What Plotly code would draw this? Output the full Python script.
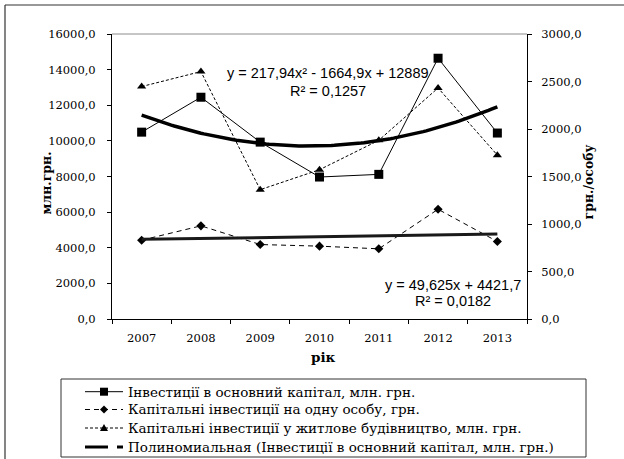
import numpy as np
import plotly.graph_objects as go

years = ["2007", "2008", "2009", "2010", "2011", "2012", "2013"]
fixed_capital = [10490, 12450, 9930, 7970, 8120, 14640, 10440]
per_person = [4425, 5230, 4180, 4090, 3940, 6160, 4350]
housing = [13050, 13890, 7260, 8380, 10030, 12970, 9200]
poly_coef = [217.94, -1664.9, 12889]
lin_coef = [49.625, 4421.7]
left_ticks = [0, 2000, 4000, 6000, 8000, 10000, 12000, 14000, 16000]
right_ticks = [0, 500, 1000, 1500, 2000, 2500, 3000]

names = [
    "Інвестиції в основний капітал, млн. грн.",
    "Капітальні інвестиції на одну особу, грн.",
    "Капітальні інвестиції у житлове будівництво, млн. грн.",
    "Полиномиальная (Інвестиції в основний капітал, млн. грн.)",
]

xpos = list(range(1, len(years) + 1))
xs = np.linspace(1, len(years), 121)
poly_y = np.polyval(poly_coef, xs)
lin_y = np.polyval(lin_coef, xs)

W, H = 624, 459
L, R, T, B = 112, 97, 34, 140
pw, ph = W - L - R, H - T - B


def px(x):
    return (x - L) / pw


def py(y):
    return (H - B - y) / ph


serif = "DejaVu Serif"
sans = "Liberation Sans, Arial, sans-serif"

fig = go.Figure()
fig.add_trace(go.Scatter(x=xpos, y=fixed_capital, name=names[0], mode="lines+markers",
                         line=dict(color="black", width=1),
                         marker=dict(symbol="square", size=9, color="black")))
fig.add_trace(go.Scatter(x=xpos, y=per_person, name=names[1], mode="lines+markers",
                         line=dict(color="black", width=1, dash="5px,4px"),
                         marker=dict(symbol="diamond", size=7, color="black")))
fig.add_trace(go.Scatter(x=xpos, y=housing, name=names[2], mode="lines+markers",
                         line=dict(color="black", width=1, dash="3px,2px"),
                         marker=dict(symbol="triangle-up", size=8, color="black")))
fig.add_trace(go.Scatter(x=xs, y=poly_y, name=names[3], mode="lines",
                         line=dict(color="black", width=3.5)))
fig.add_trace(go.Scatter(x=xs, y=lin_y, name="Линейная", mode="lines",
                         line=dict(color="#1a1a1a", width=3)))
fig.add_trace(go.Scatter(x=[], y=[], yaxis="y2", hoverinfo="skip"))

tick_font = dict(family=serif, size=11.5, color="black")
fig.update_layout(
    width=W, height=H,
    margin=dict(l=L, r=R, t=T, b=B),
    paper_bgcolor="white", plot_bgcolor="white",
    separators=", ",
    font=dict(family=serif, size=12, color="black"),
    showlegend=False,
    xaxis=dict(range=[0.5, len(years) + 0.5], tickmode="array", tickvals=xpos, ticktext=years,
               ticks="", showgrid=False, zeroline=False, showline=True, linecolor="black",
               linewidth=1, tickfont=tick_font, ticklabelstandoff=8,
               minor=dict(tickmode="array", tickvals=[i + 0.5 for i in range(len(years) + 1)],
                          ticks="outside", ticklen=4, tickcolor="black", showgrid=False)),
    yaxis=dict(range=[0, 16000], tickmode="array", tickvals=left_ticks, tickformat=".1f",
               ticks="outside", ticklen=4, tickcolor="black", showgrid=False, zeroline=False,
               showline=True, linecolor="black", linewidth=1, ticklabelstandoff=9,
               tickfont=tick_font),
    yaxis2=dict(range=[0, 3000], overlaying="y", side="right", tickmode="array",
                tickvals=right_ticks, tickformat=".1f", ticks="outside", ticklen=4,
                tickcolor="black", showgrid=False, zeroline=False, showline=True,
                linecolor="black", linewidth=1, ticklabelstandoff=7,
                tickfont=tick_font),
)

ann = dict(showarrow=False, font=dict(family=sans, size=14.5, color="black"))
fig.add_annotation(x=4.14, y=13811, text="y = 217,94x² - 1664,9x + 12889", **ann)
fig.add_annotation(x=4.14, y=12800, text="R² = 0,1257", **ann)
fig.add_annotation(x=6.25, y=1909, text="y = 49,625x + 4421,7", **ann)
fig.add_annotation(x=6.25, y=1027, text="R² = 0,0182", **ann)

tfont = dict(family=serif, size=12.5, color="black")
fig.add_annotation(xref="paper", yref="paper", x=px(36), y=py(183), text="<b>млн.грн.</b>",
                   textangle=-90, showarrow=False, font=tfont)
fig.add_annotation(xref="paper", yref="paper", x=px(597), y=py(182), text="<b>грн./особу</b>",
                   textangle=-90, showarrow=False, font=tfont)
fig.add_annotation(xref="paper", yref="paper", x=px(323), y=py(367), text="<b>рік</b>",
                   showarrow=False, font=dict(family=serif, size=13.5, color="black"))

# plot-area top border (gray) and outer chart frame
fig.add_shape(type="line", xref="paper", yref="paper", x0=0, x1=1, y0=1, y1=1,
              line=dict(color="#8c8c8c", width=1))
fig.add_shape(type="line", xref="paper", yref="paper", x0=px(5), x1=px(624), y0=py(5), y1=py(5),
              line=dict(color="#333", width=1.2))
fig.add_shape(type="line", xref="paper", yref="paper", x0=px(5), x1=px(5), y0=py(5), y1=py(459),
              line=dict(color="#333", width=1.2))

# custom legend (Excel style)
P = dict(xref="paper", yref="paper")
fig.add_shape(type="rect", x0=px(61), x1=px(586), y0=py(379), y1=py(457),
              line=dict(color="#333", width=1), fillcolor="white", layer="above", **P)
rows = [391.7, 409.5, 428, 447]
sx0, sx1, sxc = 85, 123, 104
fig.add_shape(type="line", x0=px(sx0), x1=px(sx1), y0=py(rows[0]), y1=py(rows[0]),
              line=dict(color="black", width=1), **P)
fig.add_shape(type="rect", x0=px(sxc - 4), x1=px(sxc + 4), y0=py(rows[0] + 4), y1=py(rows[0] - 4),
              line=dict(width=0), fillcolor="black", **P)
fig.add_shape(type="line", x0=px(sx0), x1=px(sx1), y0=py(rows[1]), y1=py(rows[1]),
              line=dict(color="black", width=1, dash="5px,4px"), **P)
r = rows[1]
fig.add_shape(type="path", path=f"M {px(sxc)},{py(r - 4)} L {px(sxc + 4)},{py(r)} L {px(sxc)},{py(r + 4)} L {px(sxc - 4)},{py(r)} Z",
              line=dict(width=0), fillcolor="black", **P)
fig.add_shape(type="line", x0=px(sx0), x1=px(sx1), y0=py(rows[2]), y1=py(rows[2]),
              line=dict(color="black", width=1, dash="3px,2px"), **P)
r = rows[2]
fig.add_shape(type="path", path=f"M {px(sxc)},{py(r - 4)} L {px(sxc + 4)},{py(r + 3)} L {px(sxc - 4)},{py(r + 3)} Z",
              line=dict(width=0), fillcolor="black", **P)
fig.add_shape(type="line", x0=px(sx0), x1=px(108), y0=py(rows[3]), y1=py(rows[3]),
              line=dict(color="black", width=3), **P)
fig.add_shape(type="line", x0=px(117), x1=px(sx1), y0=py(rows[3]), y1=py(rows[3]),
              line=dict(color="black", width=3), **P)
for i, nm in enumerate(names):
    fig.add_annotation(x=px(126), y=py(rows[i]), text=nm, xanchor="left", yanchor="middle",
                       showarrow=False, font=dict(family=serif, size=13.5, color="black"), **P)

fig.write_html("out.html", config={"displayModeBar": False},
               post_script="document.body.style.margin='0';document.body.style.padding='0';")
